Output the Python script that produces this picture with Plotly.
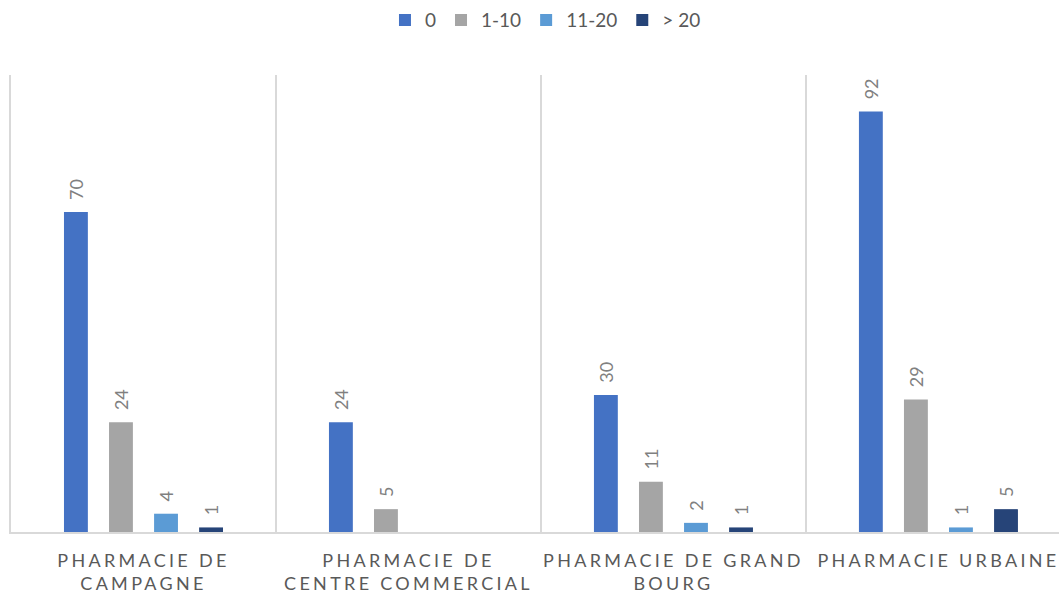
import plotly.graph_objects as go

categories = [
    "PHARMACIE DE<br>CAMPAGNE",
    "PHARMACIE DE<br>CENTRE COMMERCIAL",
    "PHARMACIE DE GRAND<br>BOURG",
    "PHARMACIE URBAINE",
]
series_names = ["0", "1-10", "11-20", "> 20"]
values_0 = [70, 24, 30, 92]
values_1_10 = [24, 5, 11, 29]
values_11_20 = [4, None, 2, 1]
values_over_20 = [1, None, 1, 5]
colors = ["#4472C4", "#A5A5A5", "#5B9BD5", "#264478"]

fig = go.Figure()
for name, vals, col in zip(series_names, [values_0, values_1_10, values_11_20, values_over_20], colors):
    fig.add_trace(go.Bar(x=categories, y=vals, name=name, marker=dict(color=col, line=dict(width=0)),
                         texttemplate="\u00a0\u00a0%{y}", textposition="outside", textangle=-90,
                         constraintext="none",
                         textfont=dict(size=18, color="#808080", family="Lato"), cliponaxis=False))

fig.update_layout(
    width=1059, height=596, barmode="group", bargap=0.32, bargroupgap=0.47,
    plot_bgcolor="white", paper_bgcolor="white",
    font=dict(family="Lato", color="#595959"),
    margin=dict(l=11, r=0, t=75, b=64),
    showlegend=True,
    legend=dict(orientation="h", x=0.51, xanchor="center", y=1.12, yanchor="middle",
                font=dict(size=19, color="#595959"), itemwidth=30, traceorder="normal"),
)
fig.update_yaxes(range=[0, 100], showticklabels=False, showgrid=False, zeroline=False,
                 showline=True, linecolor="#d9d9d9", linewidth=2, ticks="")
fig.update_xaxes(range=[-0.5, 3.455], tickson="boundaries", showgrid=True, gridcolor="#d9d9d9", gridwidth=2,
                 showline=True, linecolor="#d9d9d9", linewidth=2, ticks="", automargin=False,
                 ticklabelstandoff=11, tickfont=dict(size=18, color="#595959", family="Lato"))

# page margin off, spaced-out category labels
js = ("document.body.style.margin='0';"
      "document.querySelectorAll('.xtick text').forEach(function(t){t.style.letterSpacing='3.3px';});")
fig.write_html("out.html", post_script=js, config=dict(displayModeBar=False))
